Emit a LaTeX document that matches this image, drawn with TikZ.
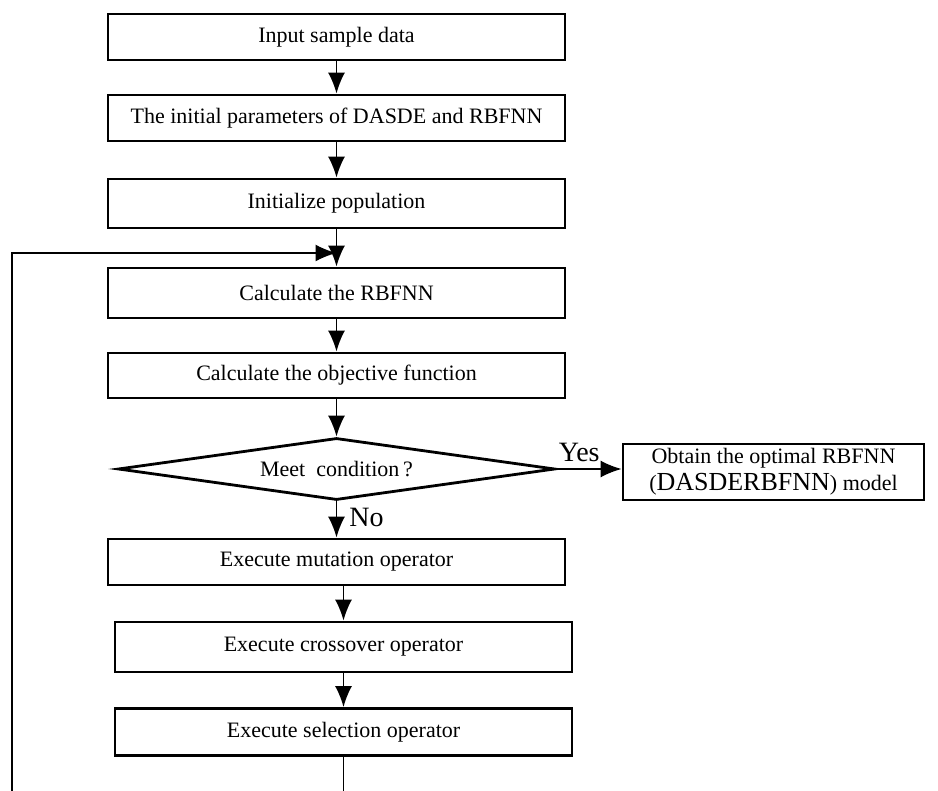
\documentclass[tikz,border=0pt]{standalone}
\usepackage{fontspec}
\setmainfont{Liberation Serif}
\usetikzlibrary{shapes.geometric}
\usetikzlibrary{arrows.meta}
\tikzset{>={Latex[length=21pt,width=17pt]}}
\tikzset{
  stepbox/.style={draw,line width=2.8pt,minimum width=457pt,inner sep=0pt,
    font=\fontsize{22}{27}\selectfont},
  link/.style={line width=1.8pt,->},
  yesno/.style={font=\fontsize{28}{30}\selectfont,inner sep=0pt},
}
\begin{document}
\begin{tikzpicture}[x=1pt,y=-1pt]
\useasboundingbox (0,0) rectangle (938,791);

% Boxes
\node[stepbox,minimum height=46pt] (input) at (336.5,37) {Input sample data};
\node[stepbox,minimum height=46pt] (param) at (336.5,118) {The initial parameters of DASDE and RBFNN};
\node[stepbox,minimum height=49pt] (init) at (336.5,203.5) {Initialize population};
\node[stepbox,minimum height=50pt] (rbf) at (336.5,293) {Calculate the RBFNN};
\node[stepbox,minimum height=45pt] (obj) at (336.5,375.5) {Calculate the objective function};
\node[stepbox,minimum height=46pt] (mut) at (336.5,562) {Execute mutation operator};
\node[stepbox,minimum height=50pt] (cross) at (343.5,647) {Execute crossover operator};
\node[stepbox,minimum height=47pt] (sel) at (343.5,732) {Execute selection operator};

% Decision
\node[draw,line width=2.8pt,diamond,aspect=7,inner sep=0pt,minimum width=437pt,
  minimum height=62pt,font=\fontsize{22}{27}\selectfont] (meet) at (336.5,469) {Meet\ \ condition\,?};
\node[stepbox,minimum width=301pt,minimum height=56pt,align=center] (best) at (773.5,472)
  {Obtain the optimal RBFNN\\({\fontsize{26}{27}\selectfont DASDERBFNN}) model};

% Arrows
\draw[link] (input) -- (param);
\draw[link] (param) -- (init);
\draw[link] (init) -- (rbf);
\draw[link] (rbf) -- (obj);
\draw[link] (obj) -- (meet);
\draw[link] (meet) -- (mut) node[yesno,pos=0.45,right,xshift=12pt]{No};
\draw[link] (meet.east) -- (best.west |- meet.east) node[yesno,pos=0.35,above,yshift=6pt]{Yes};
\draw[link] (cross.north |- mut.south) -- (cross.north);
\draw[link] (cross) -- (sel);

% Feedback loop
\coordinate (join) at (336.5,253);
\coordinate (loopend) at (343.5,791);
\coordinate (loopstart) at (12,791);
\draw[line width=1.8pt] (sel) -- (loopend);
\draw[link] (loopstart) |- (join);

\end{tikzpicture}
\end{document}
